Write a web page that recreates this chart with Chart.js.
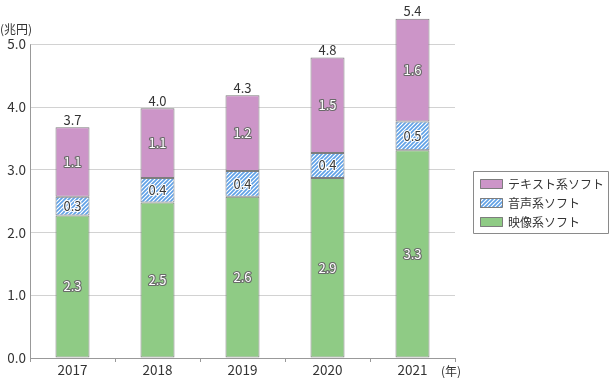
<!DOCTYPE html>
<html lang="ja">
<head>
<meta charset="utf-8">
<script src="https://cdn.jsdelivr.net/npm/chart.js@4"></script>
<style>
    html, body { margin: 0; padding: 0; background: #fff; }
    #wrap { position: relative; width: 609px; height: 378px; }
</style>
</head>
<body>
<div id="wrap"><canvas id="softChart"></canvas></div>
<script>
const years = ['2017', '2018', '2019', '2020', '2021'];

// 映像系 / 音声系 / テキスト系 (兆円)
const videoValues = [2.27, 2.48, 2.57, 2.87, 3.31];
const audioValues = [0.30, 0.39, 0.41, 0.40, 0.46];
const textValues = [1.11, 1.11, 1.21, 1.52, 1.64];

// printed labels
const videoLabels = ['2.3', '2.5', '2.6', '2.9', '3.3'];
const audioLabels = ['0.3', '0.4', '0.4', '0.4', '0.5'];
const textLabels = ['1.1', '1.1', '1.2', '1.5', '1.6'];
const totalLabels = ['3.7', '4.0', '4.3', '4.8', '5.4'];

const yTicks = [0, 1, 2, 3, 4, 5];

const FONT = '"Noto Sans CJK JP", "Noto Sans", sans-serif';
const PINK = '#cc95c8';
const GREEN = '#8fcb85';
const EDGE = '#7d7d7d';

function hatchPattern() {
    const c = document.createElement('canvas');
    c.width = 4;
    c.height = 4;
    const g = c.getContext('2d');
    g.fillStyle = '#ffffff';
    g.fillRect(0, 0, 4, 4);
    g.strokeStyle = '#5fa0e6';
    g.lineWidth = 1.6;
    g.beginPath();
    g.moveTo(-1, 5); g.lineTo(5, -1);
    g.moveTo(-1, 1); g.lineTo(1, -1);
    g.moveTo(3, 5); g.lineTo(5, 3);
    g.stroke();
    return g.createPattern(c, 'repeat');
}
const HATCH = hatchPattern();

const labelSets = [videoLabels, audioLabels, textLabels];
const labelStyle = [
    { fill: '#ffffff', stroke: '#6a6a6a' },
    { fill: '#3a3a3a', stroke: '#ffffff' },
    { fill: '#ffffff', stroke: '#6a6a6a' }
];

const extrasPlugin = {
    id: 'extras',
    beforeDatasetsDraw(chart) {
        // y axis line only up to the top tick
        const ctx = chart.ctx;
        const y = chart.scales.y;
        const x0 = chart.chartArea.left + 0.5;
        ctx.save();
        ctx.strokeStyle = '#999';
        ctx.lineWidth = 1;
        ctx.beginPath();
        ctx.moveTo(x0, y.getPixelForValue(5));
        ctx.lineTo(x0, y.getPixelForValue(0));
        ctx.stroke();
        ctx.restore();
    },
    afterDatasetsDraw(chart) {
        const ctx = chart.ctx;
        ctx.save();
        ctx.font = '13px ' + FONT;
        ctx.textAlign = 'center';
        ctx.textBaseline = 'middle';
        ctx.lineJoin = 'round';

        // values inside segments
        labelSets.forEach((labels, di) => {
            const meta = chart.getDatasetMeta(di);
            meta.data.forEach((bar, i) => {
                const cy = (bar.y + bar.base) / 2;
                ctx.lineWidth = 2.2;
                ctx.strokeStyle = labelStyle[di].stroke;
                ctx.strokeText(labels[i], bar.x, cy);
                ctx.fillStyle = labelStyle[di].fill;
                ctx.fillText(labels[i], bar.x, cy);
            });
        });

        // totals above bars
        const top = chart.getDatasetMeta(2);
        ctx.fillStyle = '#333';
        ctx.textBaseline = 'bottom';
        top.data.forEach((bar, i) => {
            ctx.fillText(totalLabels[i], bar.x, bar.y - 1);
        });

        // unit labels
        ctx.textAlign = 'left';
        ctx.textBaseline = 'middle';
        ctx.font = '12px ' + FONT;
        ctx.fillText('(兆円)', 0, 29);
        ctx.fillText('(年)', 441, 371);

        // legend
        const lx = 473, ly = 171, lw = 135, lh = 62;
        ctx.fillStyle = '#fff';
        ctx.fillRect(lx, ly, lw, lh);
        ctx.strokeStyle = '#8a8a8a';
        ctx.lineWidth = 1;
        ctx.strokeRect(lx + 0.5, ly + 0.5, lw, lh);
        const items = [
            ['テキスト系ソフト', PINK],
            ['音声系ソフト', HATCH],
            ['映像系ソフト', GREEN]
        ];
        items.forEach(([name, fill], k) => {
            const yc = 184 + k * 19;
            ctx.fillStyle = fill;
            ctx.fillRect(480, yc - 5, 23, 10);
            ctx.strokeStyle = EDGE;
            ctx.strokeRect(480.5, yc - 4.5, 22, 9);
            ctx.fillStyle = '#333';
            ctx.fillText(name, 508, yc);
        });
        ctx.restore();
    }
};

const ds = (label, data, bg) => ({
    label,
    data,
    backgroundColor: bg,
    borderColor: EDGE,
    borderWidth: 1,
    borderSkipped: false,
    barPercentage: 0.4,
    categoryPercentage: 1.0
});

new Chart(document.getElementById('softChart'), {
    type: 'bar',
    data: {
        labels: years,
        datasets: [
            ds('映像系ソフト', videoValues, GREEN),
            ds('音声系ソフト', audioValues, HATCH),
            ds('テキスト系ソフト', textValues, PINK)
        ]
    },
    options: {
        responsive: true,
        maintainAspectRatio: false,
        animation: false,
        layout: { padding: { left: 0, right: 154, top: 13, bottom: 0 } },
        plugins: {
            legend: { display: false },
            tooltip: { enabled: false }
        },
        scales: {
            x: {
                stacked: true,
                afterFit: s => { s.height = 20; },
                grid: {
                    offset: true,
                    drawOnChartArea: false,
                    drawTicks: true,
                    tickLength: 4,
                    color: '#999'
                },
                border: { color: '#999' },
                ticks: { color: '#333', font: { family: FONT, size: 13.5 }, padding: 0 }
            },
            y: {
                stacked: true,
                min: 0,
                max: 5.5,
                afterFit: s => { s.width = 30; },
                afterBuildTicks: s => { s.ticks = yTicks.map(v => ({ value: v })); },
                grid: { color: '#d2d2d2', drawTicks: false },
                border: { display: false },
                ticks: {
                    color: '#333',
                    font: { family: FONT, size: 13.5 },
                    padding: 4,
                    callback: v => v.toFixed(1)
                }
            }
        }
    },
    plugins: [extrasPlugin]
});
</script>
</body>
</html>
